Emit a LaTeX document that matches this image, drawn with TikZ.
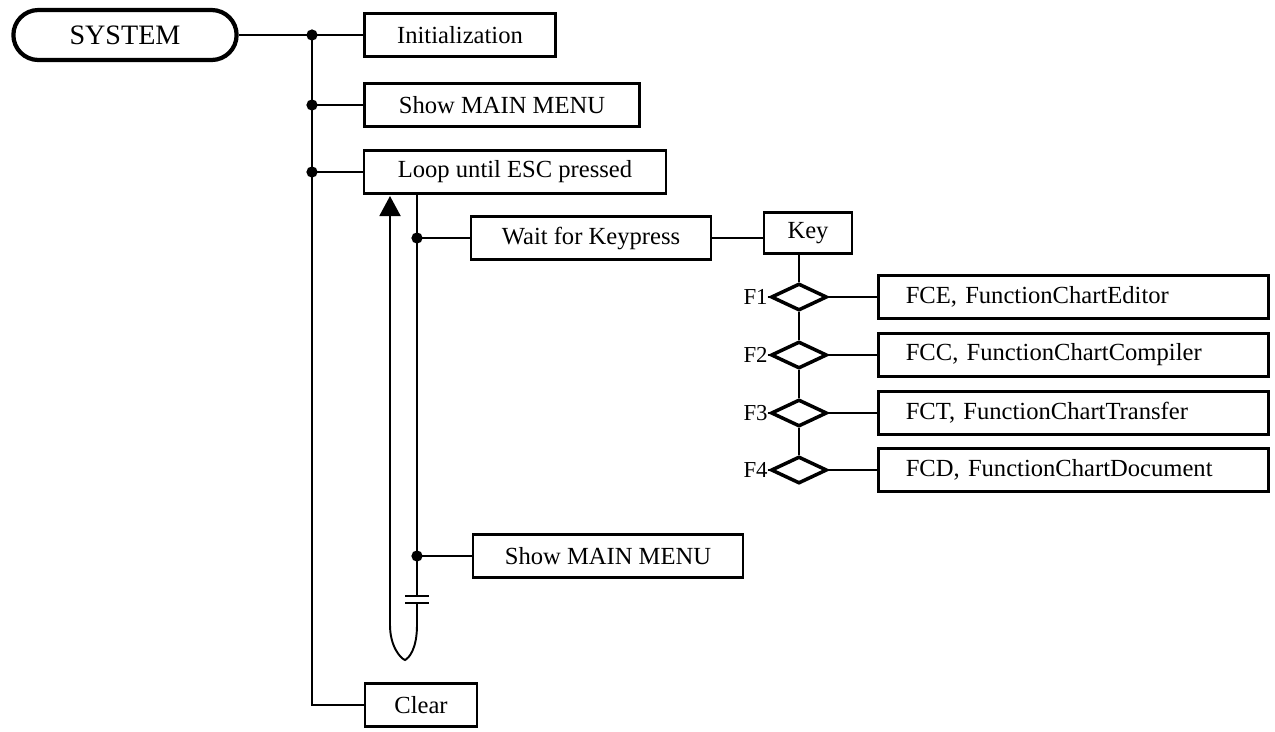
\documentclass[tikz,border=0pt]{standalone}
\usepackage{fontspec}
\setmainfont{Liberation Serif}
\usetikzlibrary{arrows.meta,shapes.geometric,shapes.misc}

\begin{document}
\begin{tikzpicture}[x=0.02cm,y=-0.02cm,font=\fontsize{14}{16}\selectfont,
  box/.style={draw,line width=1.5pt,rectangle,inner sep=0pt,minimum height=0.86cm},
  fbox/.style={box,anchor=west,text width=6.7cm,inner xsep=0.55cm,align=left},
  choice/.style={draw,line width=2pt,diamond,inner sep=0pt,minimum width=1.12cm,minimum height=0.54cm},
  flabel/.style={anchor=east,inner sep=0pt,font=\fontsize{13}{15}\selectfont},
  link/.style={line width=1.1pt}]
  \useasboundingbox (0,0) rectangle (1275,731);
  % top level
  \node[draw,line width=2.4pt,rounded rectangle,minimum width=4.7cm,minimum height=1cm,font=\fontsize{16}{18}\selectfont] (sys) at (125,35) {SYSTEM};
  \node[box,minimum width=3.82cm] (init) at (460,35) {Initialization};
  \node[box,minimum width=5.5cm] (showmenu) at (502,105) {Show MAIN MENU};
  \node[box,minimum width=6.04cm] (loop) at (515,172) {Loop until ESC pressed};
  \node[box,minimum width=2.24cm] (clear) at (421,705) {Clear};
  \coordinate(j1)at(312,35);\coordinate(j2)at(312,105);\coordinate(j3)at(312,172);\coordinate(jc)at(312,705);
  \draw[link] (sys.east) -- (init.west);
  \draw[link] (j1) -- (jc) -- (clear.west);
  \draw[link] (j2) -- (showmenu.west) (j3) -- (loop.west);
  \foreach \j in {j1,j2,j3} \fill (\j) circle (3.2pt);
  % loop body
  \node[box,minimum width=4.8cm] (wait) at (591,238) {Wait for Keypress};
  \node[box,minimum width=1.76cm,minimum height=0.82cm] (key) at (808,233) {Key};
  \node[box,minimum width=5.4cm] (showmenub) at (608,556) {Show MAIN MENU};
  \coordinate(k1)at(417,238);\coordinate(k2)at(417,556);
  \coordinate(bartop)at(417,596);\coordinate(barbot)at(417,603);\coordinate(tip)at(390,196);
  \draw[link] (loop.south -| k1) -- (bartop);
  \draw[link] (bartop) ++(-12,0) -- ++(24,0) (barbot) ++(-12,0) -- ++(24,0);
  \draw[link,-{Triangle[width=0.42cm,length=0.4cm]}] (barbot) -- ++(0,22)
    .. controls ++(0,24) and (409,658) .. (405,660)
    .. controls (400,658) and (390,646) .. (390,625) -- (tip);
  \draw[link] (k1) -- (wait.west) (k2) -- (showmenub.west);
  \draw[link] (wait.east) -- (wait.east -| key.west);
  \foreach \k in {k1,k2} \fill (\k) circle (3.2pt);
  % key choices
  \foreach \i/\y/\n/\t in {1/297/fce/{FCE, FunctionChartEditor},2/355/fcc/{FCC, FunctionChartCompiler},
      3/413/fct/{FCT, FunctionChartTransfer},4/470/fcd/{FCD, FunctionChartDocument}}{
    \node[choice] (d\i) at (799,\y) {};
    \node[fbox] (\n) at (877,\y) {\t};
    \node[flabel] (f\i) at (768,\y) {F\i};
    \draw[link] (d\i.east) -- (\n.west) (f\i.east) -- (d\i.west);
  }
  \draw[link] (key.south -| d1.north) -- (d1.north);
  \foreach \a/\b in {1/2,2/3,3/4} \draw[link] (d\a.south) -- (d\b.north);
\end{tikzpicture}
\end{document}
